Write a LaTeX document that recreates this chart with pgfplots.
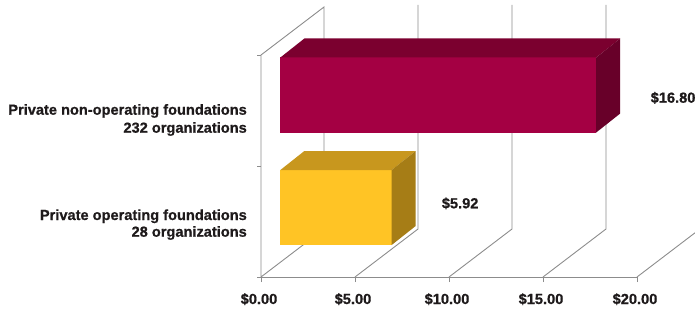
\documentclass[border=0pt]{standalone}
\usepackage{fontspec}
\setmainfont{Liberation Sans}[BoldFeatures={FakeBold=0.8}]
\usepackage{pgfplots}
\pgfplotsset{compat=1.18}
\usepackage{pgfplotstable}

\definecolor{gridc}{HTML}{8C8C8C}
\definecolor{txt}{HTML}{1E1A1B}
\definecolor{redF}{HTML}{A40043}
\definecolor{redT}{HTML}{7B002F}
\definecolor{redS}{HTML}{680029}
\definecolor{yelF}{HTML}{FFC425}
\definecolor{yelT}{HTML}{C8971E}
\definecolor{yelS}{HTML}{A67D16}

\tikzset{lab/.style={font=\bfseries\fontsize{14.6}{17}\selectfont, text=txt, inner sep=0pt}}

% corner tables for the faces of a 3-D bar: m = share of the value, d = share of bar depth, h = share of bar height
\pgfplotstableread{
m d h
0 0 0
1 0 0
1 0 1
0 0 1
}\frontface
\pgfplotstableread{
m d h
0 0 1
1 0 1
1 1 1
0 1 1
}\topface
\pgfplotstableread{
m d h
1 0 0
1 1 0
1 1 1
1 0 1
}\sideface

\def\fx{1.03}   % front offset of the bars (x units)
\def\bx{1.277}  % bar depth, x units
\def\by{19}     % bar depth, y units
\def\bh{75}     % bar height

\begin{document}
\begin{tikzpicture}
\begin{axis}[
  x=18.8pt, y=1pt,
  xmin=-13.883, xmax=23.085, ymin=0, ymax=277,
  axis line style={draw=none},
  xtick={0,5,10,15,20},
  xticklabels={\$0.00,\$5.00,\$10.00,\$15.00,\$20.00},
  ytick=\empty,
  xtick pos=left,
  tick align=outside,
  major tick length=5pt,
  tick style={draw=gridc, line width=0.9pt},
  xticklabel style={font=\bfseries\fontsize{14.6}{17}\selectfont, text=txt, anchor=base, yshift=-22pt, xshift=-2pt},
  clip mode=global,
]
% walls and gridlines
\addplot[gridc, line width=0.9pt] coordinates {(0,0) (0,222) (3.351,270) (3.351,48) (0,0)};
\addplot[gridc, line width=0.9pt] coordinates {(0,0) (20,0)};
\addplot[gridc, line width=0.9pt] coordinates {(5,0) (8.351,48) (8.351,272)};
\addplot[gridc, line width=0.9pt] coordinates {(10,0) (13.351,48) (13.351,272)};
\addplot[gridc, line width=0.9pt] coordinates {(15,0) (18.351,48) (18.351,272)};
\addplot[gridc, line width=0.9pt] coordinates {(20,0) (23.351,48) (23.351,272)};
\addplot[gridc, line width=0.9pt] coordinates {(-0.213,0) (0,0)};
\addplot[gridc, line width=0.9pt] coordinates {(-0.213,111) (0,111)};
\addplot[gridc, line width=0.9pt] coordinates {(-0.213,222) (0,222)};

% Private operating foundations: 5.92
\addplot[fill=yelF, draw=none] table[x expr={\thisrow{m}*5.92+\fx+\thisrow{d}*\bx}, y expr={32+\thisrow{h}*\bh+\thisrow{d}*\by}] {\frontface};
\addplot[fill=yelT, draw=none] table[x expr={\thisrow{m}*5.92+\fx+\thisrow{d}*\bx}, y expr={32+\thisrow{h}*\bh+\thisrow{d}*\by}] {\topface};
\addplot[fill=yelS, draw=none] table[x expr={\thisrow{m}*5.92+\fx+\thisrow{d}*\bx}, y expr={32+\thisrow{h}*\bh+\thisrow{d}*\by}] {\sideface};

% Private non-operating foundations: 16.80
\addplot[fill=redF, draw=none] table[x expr={\thisrow{m}*16.80+\fx+\thisrow{d}*\bx}, y expr={144.5+\thisrow{h}*\bh+\thisrow{d}*\by}] {\frontface};
\addplot[fill=redT, draw=none] table[x expr={\thisrow{m}*16.80+\fx+\thisrow{d}*\bx}, y expr={144.5+\thisrow{h}*\bh+\thisrow{d}*\by}] {\topface};
\addplot[fill=redS, draw=none] table[x expr={\thisrow{m}*16.80+\fx+\thisrow{d}*\bx}, y expr={144.5+\thisrow{h}*\bh+\thisrow{d}*\by}] {\sideface};

\node[lab, anchor=base east] at (axis cs:-0.745,162.3) {Private non-operating foundations};
\node[lab, anchor=base east] at (axis cs:-0.745,144.3) {232 organizations};
\node[lab, anchor=base east] at (axis cs:-0.745,57) {Private operating foundations};
\node[lab, anchor=base east] at (axis cs:-0.745,40.3) {28 organizations};
\node[lab, anchor=base west] at (axis cs:9.61,68.7) {\$5.92};
\node[lab, anchor=base west] at (axis cs:20.72,174.3) {\$16.80};

\coordinate (BL) at (axis cs:-13.883,-31);
\coordinate (TR) at (axis cs:23.085,277);
\end{axis}
\pgfresetboundingbox
\path[use as bounding box] (BL) rectangle (TR);
\end{tikzpicture}
\end{document}
